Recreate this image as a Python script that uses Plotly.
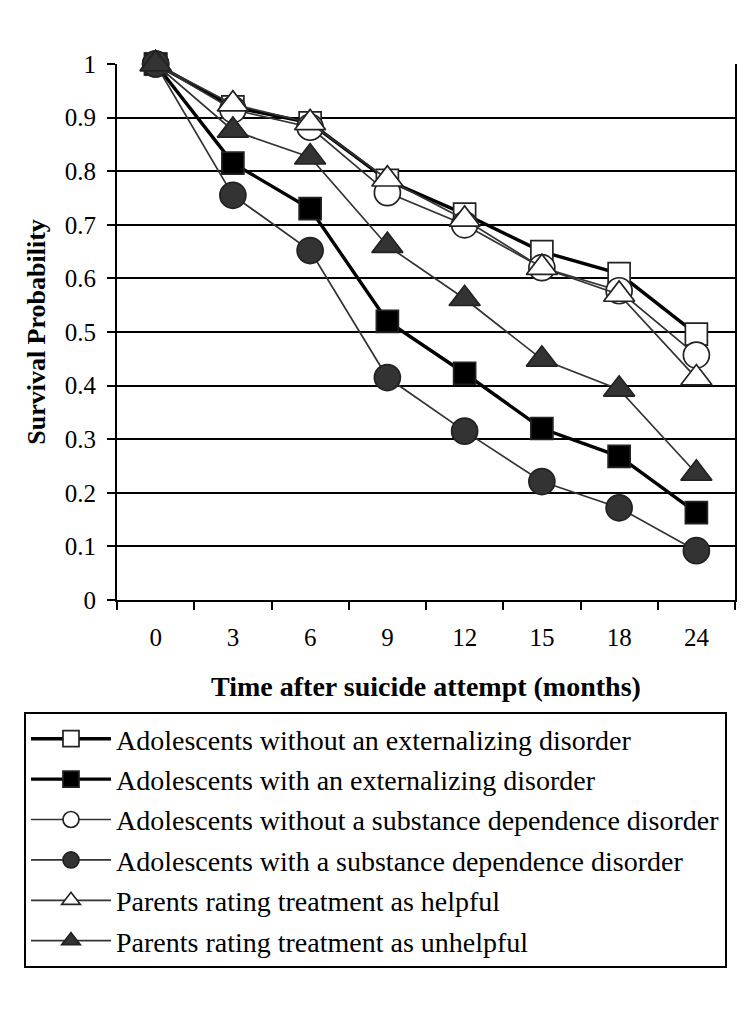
import plotly.graph_objects as go

months = ["0", "3", "6", "9", "12", "15", "18", "24"]
names = [
    "Adolescents without an externalizing disorder",
    "Adolescents with an externalizing disorder",
    "Adolescents without a substance dependence disorder",
    "Adolescents with a substance dependence disorder",
    "Parents rating treatment as helpful",
    "Parents rating treatment as unhelpful",
]
no_ext = [1.0, 0.92, 0.89, 0.783, 0.72, 0.65, 0.609, 0.496]
with_ext = [1.0, 0.815, 0.73, 0.52, 0.423, 0.32, 0.268, 0.163]
no_sub = [1.0, 0.915, 0.882, 0.76, 0.70, 0.62, 0.577, 0.457]
with_sub = [1.0, 0.755, 0.652, 0.415, 0.315, 0.221, 0.172, 0.092]
helpful = [1.0, 0.925, 0.89, 0.785, 0.71, 0.62, 0.57, 0.414]
unhelpful = [1.0, 0.876, 0.826, 0.661, 0.562, 0.449, 0.393, 0.236]

series = [no_ext, with_ext, no_sub, with_sub, helpful, unhelpful]
styles = [
    dict(symbol="square", fill="white", line="black", lw=3.4, size=22),
    dict(symbol="square", fill="black", line="black", lw=3.4, size=22),
    dict(symbol="circle", fill="white", line="#333333", lw=1.7, size=26),
    dict(symbol="circle", fill="#333333", line="#333333", lw=1.7, size=26),
    dict(symbol="triangle-up", fill="white", line="#333333", lw=1.7, size=27),
    dict(symbol="triangle-up", fill="#333333", line="#333333", lw=1.7, size=27),
]

fig = go.Figure()
for i, (name, vals, st) in enumerate(zip(names, series, styles)):
    fig.add_trace(go.Scatter(
        x=months, y=vals, name=name, mode="lines+markers",
        legendgroup="g%d" % i,
        line=dict(color=st["line"], width=st["lw"]),
        marker=dict(symbol=st["symbol"], size=st["size"], color=st["fill"],
                    line=dict(color="#222222", width=1.7)),
        cliponaxis=False,
    ))

font_family = "Liberation Serif, Times New Roman, serif"
fig.update_layout(
    width=742, height=1004,
    margin=dict(l=109, r=15, t=56, b=412),
    paper_bgcolor="white", plot_bgcolor="white",
    font=dict(family=font_family, color="black", size=25),
    showlegend=True,
    legend=dict(
        x=-0.1505, y=-0.209, xanchor="left", yanchor="top",
        bordercolor="black", borderwidth=2,
        font=dict(size=28, family=font_family),
        itemwidth=80, tracegroupgap=1,
        bgcolor="white",
    ),
    xaxis=dict(
        type="category", categoryorder="array", categoryarray=months,
        range=[-0.5, 7.5],
        automargin=False,
        showline=True, linecolor="black", linewidth=2,
        ticks="outside", ticklen=8, tickwidth=2, tickcolor="black",
        tickson="boundaries", showgrid=False,
        tickfont=dict(size=25), ticklabelstandoff=14,
        title=dict(text="<b>Time after suicide attempt (months)</b>",
                   font=dict(size=28), standoff=26),
    ),
    yaxis=dict(
        range=[0, 1], dtick=0.1, tick0=0,
        automargin=False,
        showline=True, mirror=True, linecolor="black", linewidth=2,
        ticks="outside", ticklen=8, tickwidth=2, tickcolor="black",
        showgrid=True, gridcolor="black", gridwidth=2,
        tickfont=dict(size=25), ticklabelstandoff=6,
        zeroline=False,
        title=dict(text="<b>Survival Probability</b>", font=dict(size=26), standoff=12),
    ),
)

fig.write_html("out.html")
